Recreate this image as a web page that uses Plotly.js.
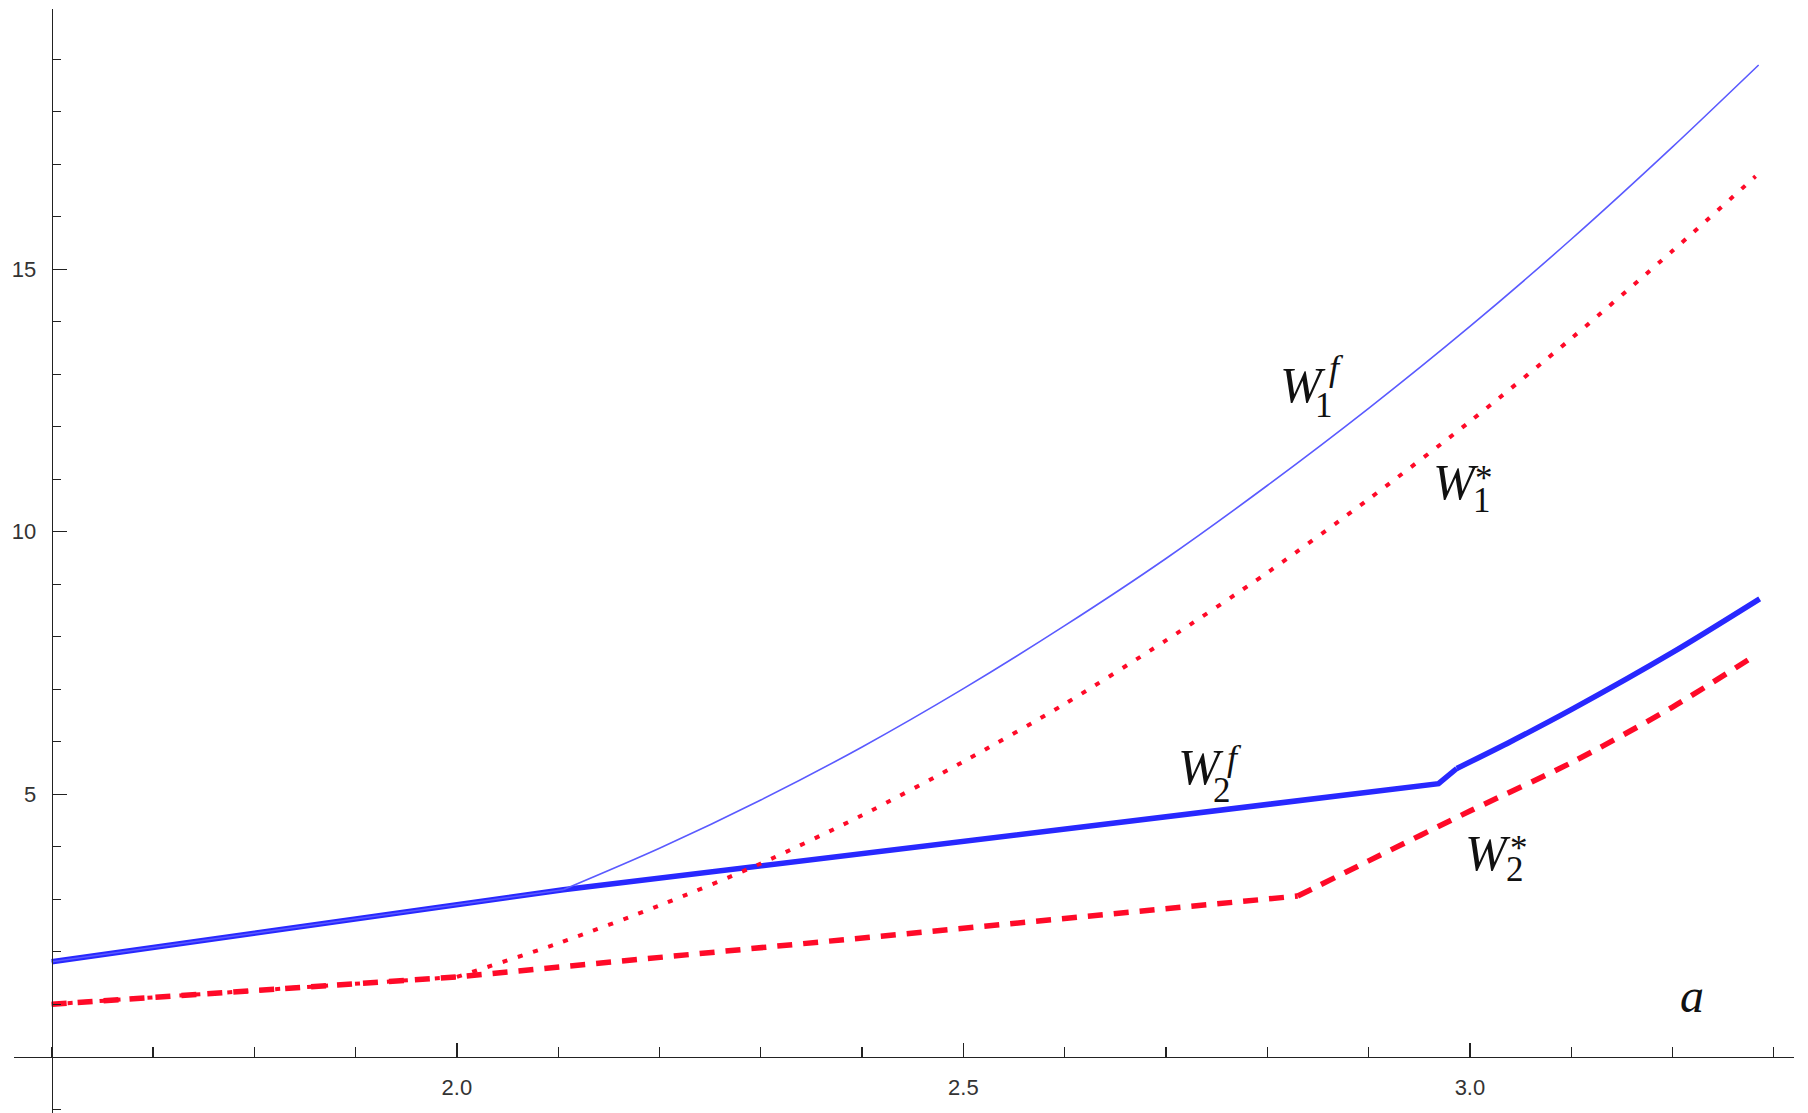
<!DOCTYPE html>
<html>
<head>
<meta charset="utf-8">
<script src="https://cdn.plot.ly/plotly-3.0.1.min.js"></script>
<style>html,body{margin:0;padding:0;background:#fff;}#chart{width:1808px;height:1113px;}</style>
</head>
<body>
<div id="chart"></div>
<script>
// ---- data ----
const a_W1f = [1.6, 2.105, 2.2, 2.3, 2.4, 2.5, 2.6, 2.7, 2.8, 2.9, 3.0, 3.1, 3.2, 3.285];
const W1f   = [1.81, 3.18, 3.97, 4.89, 5.90, 7.01, 8.21, 9.49, 10.88, 12.35, 13.91, 15.57, 17.33, 18.89];

const a_W2f = [1.6, 2.105, 2.969, 2.987, 3.04, 3.1, 3.2, 3.286];
const W2f   = [1.81, 3.18, 5.20, 5.49, 6.00, 6.61, 7.70, 8.72];

const a_W1s = [1.6, 2.0, 2.1, 2.2, 2.3, 2.4, 2.5, 2.6, 2.7, 2.8, 2.9, 3.0, 3.1, 3.2, 3.282];
const W1s   = [1.0, 1.52, 2.16, 2.88, 3.68, 4.60, 5.62, 6.72, 7.93, 9.22, 10.62, 12.10, 13.68, 15.35, 16.77];

const a_W2s = [1.6, 2.0, 2.83, 2.9, 3.0, 3.1, 3.2, 3.282];
const W2s   = [1.0, 1.52, 3.06, 3.73, 4.68, 5.60, 6.66, 7.65];

const xTickVals = [2.0, 2.5, 3.0];
const xTickText = ["2.0", "2.5", "3.0"];
const yTickVals = [5, 10, 15];
const yTickText = ["5", "10", "15"];

// ---- layout constants ----
const XR = [1.5628, 3.3199];
const YR = [-1.072, 19.956];
const xMinor = [], yMinor = [];
for (let i = 16; i <= 33; i++) { const v = i / 10; if (i % 5 !== 0) xMinor.push(v); }
for (let i = -1; i <= 19; i++) { if (i % 5 !== 0) yMinor.push(i); }

const blue = 'rgb(40,40,255)';
const blueThin = 'rgb(90,90,255)';
const red = 'rgb(255,10,40)';

// each curve: straight piecewise part (index 0..k) + smooth part (index k..end)
function piece(xs, ys, k, line, name) {
  return [
    {x: xs.slice(0, k + 1), y: ys.slice(0, k + 1), mode: 'lines', line: Object.assign({}, line, {shape: 'linear'}), name: name},
    {x: xs.slice(k), y: ys.slice(k), mode: 'lines', line: Object.assign({}, line, {shape: 'spline', smoothing: 0.8}), name: name}
  ];
}

const traces = [].concat(
  piece(a_W2f, W2f, 3, {color: blue, width: 5.5}, 'W2f'),
  piece(a_W1f, W1f, 1, {color: blueThin, width: 1.6}, 'W1f'),
  piece(a_W2s, W2s, 2, {color: red, width: 5.5, dash: '15px,11px'}, 'W2*'),
  piece(a_W1s, W1s, 1, {color: red, width: 4, dash: '5px,11px'}, 'W1*')
);

const serif = 'Liberation Serif';
function lab(x, y, txt, size) {
  return {x: x, y: y, xref: 'x', yref: 'y', text: txt, showarrow: false,
          xanchor: 'center', yanchor: 'middle', font: {family: serif, size: size, color: '#111'}};
}
const annotations = [
  lab(2.8352, 12.79, '<i>W</i>', 50), lab(2.856, 12.40, '1', 35), lab(2.8678, 13.12, '<i>f</i>', 36),
  lab(2.9862, 10.95, '<i>W</i>', 50), lab(3.0119, 10.59, '1', 35), lab(3.0139, 11.02, '*', 35),
  lab(2.7346, 5.51, '<i>W</i>', 50), lab(2.7554, 5.08, '2', 35), lab(2.7672, 5.69, '<i>f</i>', 36),
  lab(3.0178, 3.88, '<i>W</i>', 50), lab(3.0445, 3.57, '2', 35), lab(3.0485, 3.97, '*', 35),
  lab(3.2193, 1.175, '<i>a</i>', 48)
];

const layout = {
  width: 1808, height: 1113,
  margin: {l: 14, r: 14, t: 9, b: 0, pad: 0},
  paper_bgcolor: '#fff', plot_bgcolor: '#fff',
  showlegend: false,
  xaxis: {
    range: XR, anchor: 'free', position: (0 - YR[0]) / (YR[1] - YR[0]),
    showgrid: false, zeroline: false, showline: true, linecolor: '#222', linewidth: 1.4,
    tickmode: 'array', tickvals: xTickVals, ticktext: xTickText,
    ticks: 'inside', ticklen: 14, tickwidth: 1.3, tickcolor: '#222',
    ticklabelstandoff: 10,
    tickfont: {family: 'Liberation Sans', size: 22, color: '#333'},
    minor: {tickmode: 'array', tickvals: xMinor, ticks: 'inside', ticklen: 10, tickwidth: 1.3, tickcolor: '#222', showgrid: false},
    fixedrange: true
  },
  yaxis: {
    range: YR, anchor: 'free', position: (1.6 - XR[0]) / (XR[1] - XR[0]),
    showgrid: false, zeroline: false, showline: true, linecolor: '#222', linewidth: 1.4,
    tickmode: 'array', tickvals: yTickVals, ticktext: yTickText,
    ticks: 'inside', ticklen: 14, tickwidth: 1.3, tickcolor: '#222',
    ticklabelstandoff: 11,
    tickfont: {family: 'Liberation Sans', size: 22, color: '#333'},
    minor: {tickmode: 'array', tickvals: yMinor, ticks: 'inside', ticklen: 8, tickwidth: 1.3, tickcolor: '#222', showgrid: false},
    fixedrange: true
  },
  annotations: annotations
};

Plotly.newPlot('chart', traces, layout, {staticPlot: true, displayModeBar: false});
</script>
</body>
</html>
